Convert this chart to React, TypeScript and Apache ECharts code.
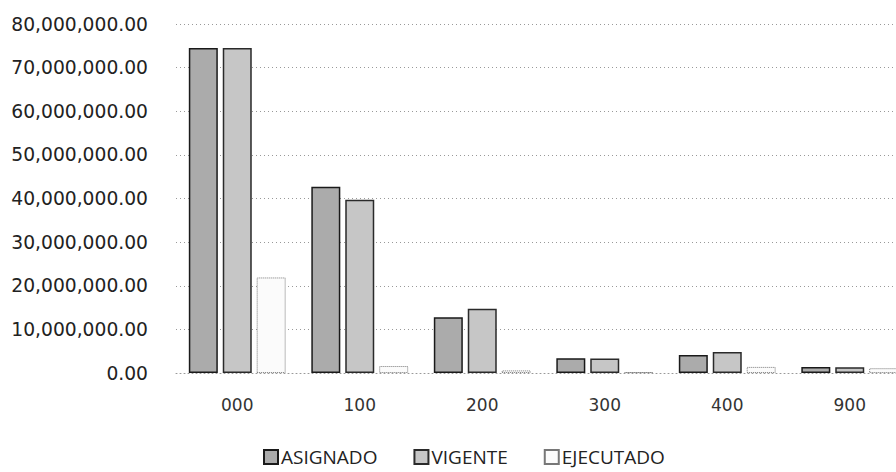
import React, { useEffect, useRef } from "react";
import * as echarts from "echarts";

const categories = ["000", "100", "200", "300", "400", "900"];
const asignado = [74500000, 42700000, 12800000, 3400000, 4100000, 1400000];
const vigente = [74500000, 39700000, 14700000, 3300000, 4800000, 1300000];
const ejecutado = [21900000, 1600000, 600000, 200000, 1400000, 1100000];
const yTicks = { min: 0, max: 80000000, interval: 10000000 };

const fmt = (v: number) =>
  v.toLocaleString("en-US", { minimumFractionDigits: 2, maximumFractionDigits: 2 });

export default function App() {
  const ref = useRef<HTMLDivElement>(null);
  useEffect(() => {
    if (!ref.current) return;
    const chart = echarts.init(ref.current, undefined, { renderer: "svg" });
    chart.setOption({
      animation: false,
      backgroundColor: "#ffffff",
      grid: {
        left: 176,
        right: -15,
        top: 24,
        bottom: 99,
        containLabel: false,
        outerBoundsMode: "none",
      },
      legend: {
        left: 263,
        top: 446,
        padding: 0,
        icon: "rect",
        itemWidth: 14,
        itemHeight: 14,
        itemGap: 36,
        textStyle: {
          fontFamily: "Open Sans",
          fontSize: 19,
          lineHeight: 22,
          color: "#222",
          padding: [0, 0, 0, -2],
        },
        data: ["ASIGNADO", "VIGENTE", "EJECUTADO"],
      },
      xAxis: {
        type: "category",
        data: categories,
        axisLine: { show: true, lineStyle: { color: "#999", type: [1, 3] } },
        axisTick: { show: false },
        axisLabel: {
          margin: 23,
          fontFamily: "DejaVu Sans",
          fontSize: 17,
          color: "#333",
        },
      },
      yAxis: {
        type: "value",
        min: yTicks.min,
        max: yTicks.max,
        interval: yTicks.interval,
        axisLine: { show: false },
        axisTick: { show: false },
        splitLine: { lineStyle: { color: "#999", type: [1, 3], width: 1 } },
        axisLabel: {
          margin: 28,
          fontFamily: "DejaVu Sans",
          fontSize: 18.7,
          color: "#222",
          formatter: (v: number) => fmt(v),
        },
      },
      series: [
        {
          name: "ASIGNADO",
          type: "bar",
          data: asignado,
          barWidth: 29,
          barGap: "17%",
          itemStyle: { color: "#ababab", borderColor: "#1a1a1a", borderWidth: 1.5 },
        },
        {
          name: "VIGENTE",
          type: "bar",
          data: vigente,
          barWidth: 29,
          barGap: "17%",
          itemStyle: { color: "#c6c6c6", borderColor: "#2a2a2a", borderWidth: 1.5 },
        },
        {
          name: "EJECUTADO",
          type: "bar",
          data: ejecutado,
          barWidth: 29,
          barGap: "17%",
          itemStyle: {
            color: "#fbfbfb",
            borderColor: "#777",
            borderWidth: 1,
            borderType: "dotted",
          },
        },
      ],
    });
    return () => chart.dispose();
  }, []);
  return (
    <div
      ref={ref}
      style={{ position: "fixed", left: 0, top: 0, width: 896, height: 472 }}
    />
  );
}
